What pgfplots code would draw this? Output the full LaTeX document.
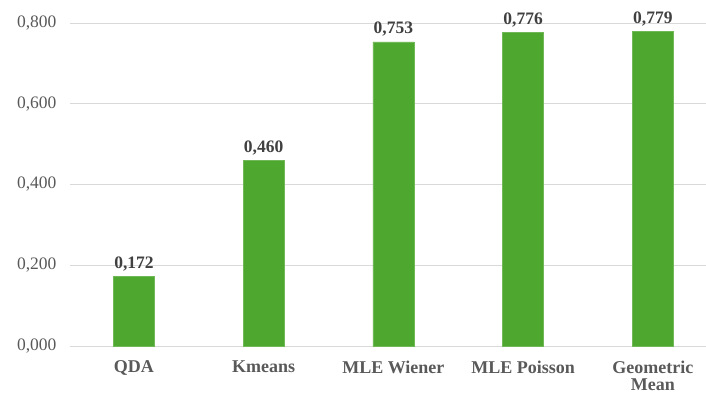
\documentclass[border=0pt]{standalone}
\usepackage{pgfplots}
\pgfplotsset{compat=1.18}
\usepackage{fontspec}
\setmainfont{Liberation Serif}
\definecolor{barg}{HTML}{4EA72E}
\definecolor{txtg}{HTML}{595959}
\definecolor{grid}{HTML}{D9D9D9}
\begin{document}
\begin{tikzpicture}
\begin{axis}[
  at={(0,0)}, anchor=south west,
  scale only axis,
  width=636pt, height=323pt,
  xmin=-0.493, xmax=4.41,
  ymin=0, ymax=0.8,
  ytick={0,0.2,0.4,0.6,0.8},
  xtick={0,1,2,3,4},
  xticklabels={QDA,Kmeans,MLE Wiener,MLE Poisson,{Geometric\\Mean}},
  xticklabel style={font=\fontsize{18}{17.5}\selectfont\bfseries, text=txtg, align=center, anchor=north, inner sep=0pt, yshift=-14.5pt},
  yticklabel style={font=\fontsize{17.5}{18}\selectfont, text=txtg, xshift=-10pt},
  /pgf/number format/.cd, fixed, fixed zerofill, precision=3, use comma, assume math mode=true,
  /pgfplots/.cd,
  axis line style={draw=none},
  major tick length=0pt,
  ymajorgrids,
  grid style={draw=grid, line width=1pt},
  clip=false,
  ybar, bar width=41pt,
  nodes near coords,
  nodes near coords style={font=\fontsize{17.5}{18}\selectfont\bfseries, text=black!75, yshift=2pt, /pgf/number format/.cd, fixed, fixed zerofill, precision=3, use comma, assume math mode=true},
]
\addplot[fill=barg, draw=barg!80!white] coordinates {(0,0.172) (1,0.460) (2,0.753) (3,0.776) (4,0.779)};
\end{axis}
\pgfresetboundingbox
\useasboundingbox (-70pt,-48pt) rectangle (636pt,346pt);
\end{tikzpicture}
\end{document}
